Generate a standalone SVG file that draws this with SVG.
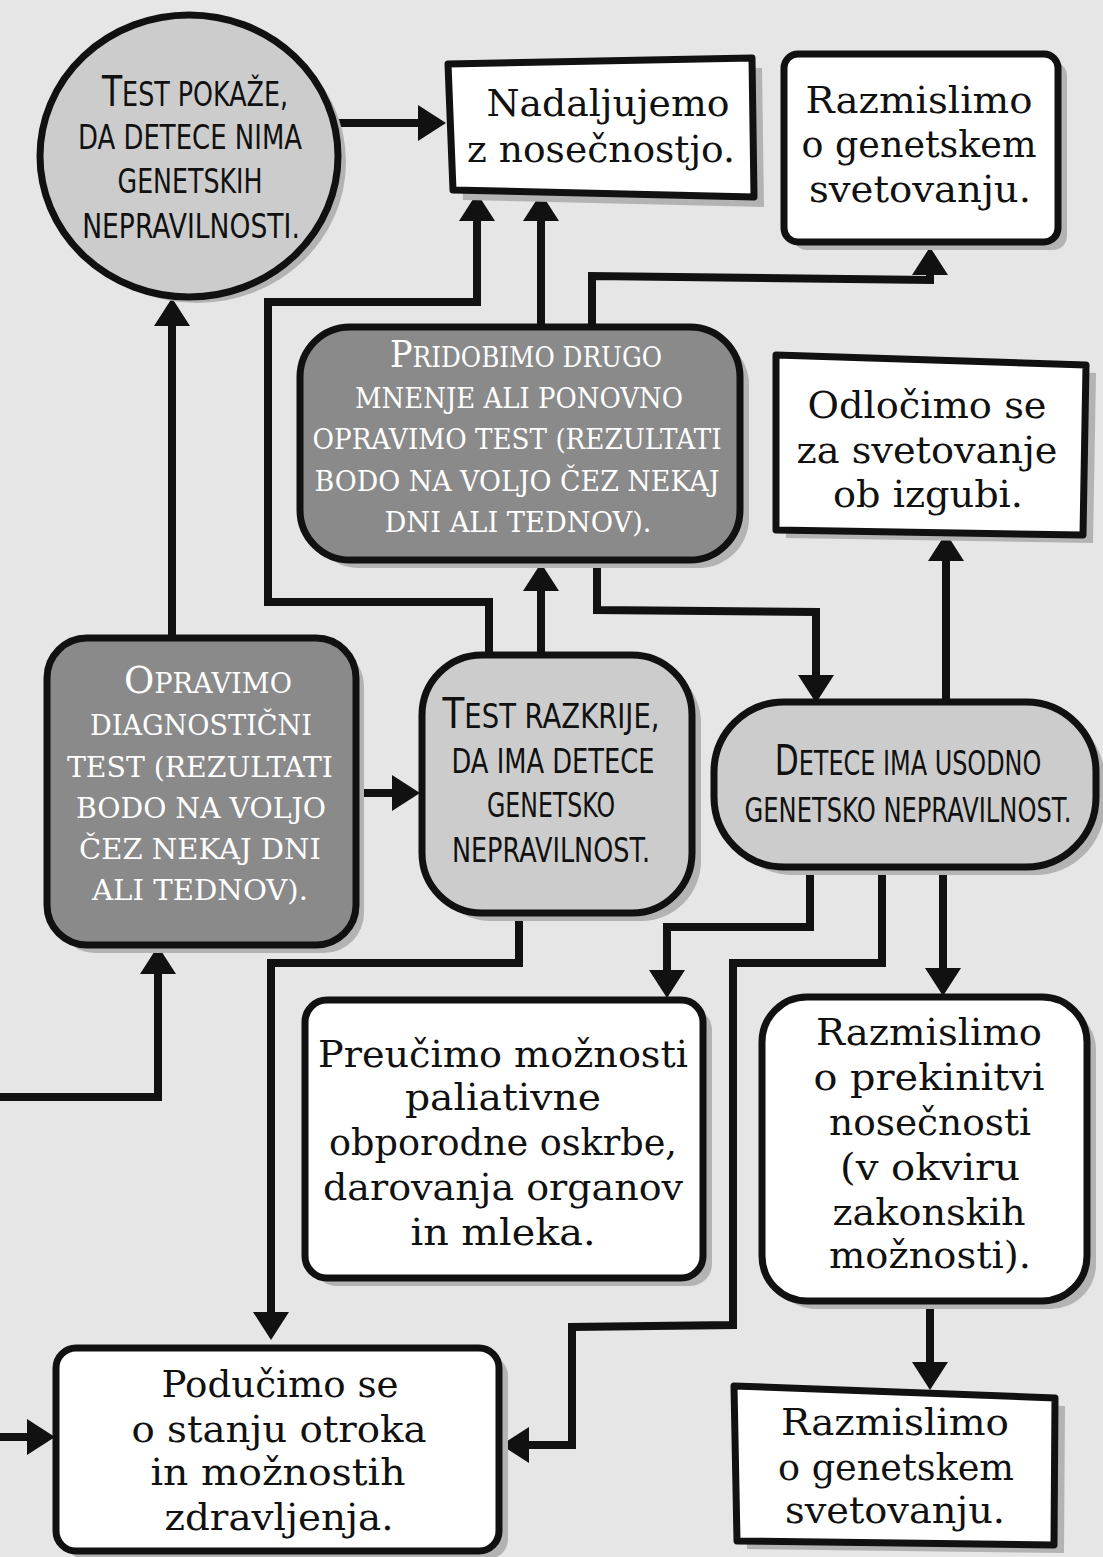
<svg xmlns="http://www.w3.org/2000/svg" width="1103" height="1557" viewBox="0 0 1103 1557">
<style>
.bg{fill:#e6e6e6}
.shape{stroke:#111;stroke-width:7;stroke-linejoin:round}
.shadow{fill:#b3b3b3;stroke:none}
.light{fill:#cccccc}
.dark{fill:#8a8a8a}
.white{fill:#ffffff}
.hand{font-family:"DejaVu Sans",sans-serif;font-size:33px;fill:#111;text-anchor:middle}
.hand .big{font-size:43px}
.sc{font-family:"DejaVu Serif",serif;font-size:28px;fill:#fff;text-anchor:middle}
.sc .big{font-size:38px}
.tw{font-family:"DejaVu Serif",serif;font-size:37px;fill:#111;text-anchor:middle}
.conn{fill:none;stroke:#111;stroke-width:8;stroke-linejoin:miter;marker-end:url(#arrow)}
</style>
<defs>
<marker id="arrow" viewBox="0 0 28 36" refX="16" refY="18" markerWidth="28" markerHeight="36" markerUnits="userSpaceOnUse" orient="auto">
<path d="M0,0 L28,18 L0,36 Z" fill="#111"/>
</marker>
</defs>
<rect class="bg" x="0" y="0" width="1103" height="1557"/>

<g id="connectors">
<path class="conn" d="M338,123 L434,123"/>
<path class="conn" d="M172,637 L172,310"/>
<path class="conn" d="M489,655 L489,602 L268,602 L268,302 L477,302 L477,205"/>
<path class="conn" d="M541,327 L541,205"/>
<path class="conn" d="M592,327 L592,276 L930,280 L930,259"/>
<path class="conn" d="M541,655 L541,575"/>
<path class="conn" d="M597,558 L597,610 L816,612 L816,691"/>
<path class="conn" d="M946,702 L946,545"/>
<path class="conn" d="M355,793 L408,793"/>
<path class="conn" d="M-5,1097 L158,1097 L158,958"/>
<path class="conn" d="M519,912 L519,963 L271,963 L271,1328"/>
<path class="conn" d="M810,866 L810,927 L667,927 L667,986"/>
<path class="conn" d="M882,866 L882,963 L733,963 L733,1325 L572,1327 L572,1445 L513,1445"/>
<path class="conn" d="M943,866 L943,984"/>
<path class="conn" d="M930,1300 L930,1378"/>
<path class="conn" d="M-5,1437 L43,1437"/>
</g>

<g id="node-test-pokaze">
<ellipse class="shadow" cx="197" cy="162" rx="149" ry="141"/>
<ellipse class="shape light" cx="189" cy="156" rx="149" ry="141"/>
<text class="hand" transform="translate(195,0) scale(0.7,1)" x="0" y="106" textLength="266" lengthAdjust="spacingAndGlyphs"><tspan class="big">T</tspan>EST POKAŽE,</text>
<text class="hand" transform="translate(190,0) scale(0.7,1)" x="0" y="149" textLength="320" lengthAdjust="spacingAndGlyphs">DA DETECE NIMA</text>
<text class="hand" transform="translate(190,0) scale(0.7,1)" x="0" y="193" textLength="207" lengthAdjust="spacingAndGlyphs">GENETSKIH</text>
<text class="hand" transform="translate(191,0) scale(0.7,1)" x="0" y="238" textLength="311" lengthAdjust="spacingAndGlyphs">NEPRAVILNOSTI.</text>
</g>

<g id="node-nadaljujemo">
<path class="shadow" d="M458,74 L762,68 L764,207 L463,200 Z"/>
<path class="shape white" d="M448,64 L752,58 L754,197 L453,190 Z"/>
<text class="tw" x="608" y="116" textLength="243" lengthAdjust="spacingAndGlyphs">Nadaljujemo</text>
<text class="tw" x="601" y="162" textLength="268" lengthAdjust="spacingAndGlyphs">z nosečnostjo.</text>
</g>

<g id="node-razmislimo-top">
<rect class="shadow" x="793" y="62" width="274" height="188" rx="14"/>
<rect class="shape white" x="784" y="54" width="274" height="188" rx="14"/>
<text class="tw" x="919" y="113" textLength="227" lengthAdjust="spacingAndGlyphs">Razmislimo</text>
<text class="tw" x="919" y="157" textLength="235" lengthAdjust="spacingAndGlyphs">o genetskem</text>
<text class="tw" x="920" y="202" textLength="222" lengthAdjust="spacingAndGlyphs">svetovanju.</text>
</g>

<g id="node-pridobimo">
<rect class="shadow" x="309" y="335" width="440" height="233" rx="50"/>
<rect class="shape dark" x="300" y="327" width="440" height="233" rx="50"/>
<text class="sc" x="526" y="367" textLength="272" lengthAdjust="spacingAndGlyphs"><tspan class="big">P</tspan>RIDOBIMO DRUGO</text>
<text class="sc" x="519" y="408" textLength="328" lengthAdjust="spacingAndGlyphs">MNENJE ALI PONOVNO</text>
<text class="sc" x="517" y="449" textLength="409" lengthAdjust="spacingAndGlyphs">OPRAVIMO TEST (REZULTATI</text>
<text class="sc" x="517" y="491" textLength="405" lengthAdjust="spacingAndGlyphs">BODO NA VOLJO ČEZ NEKAJ</text>
<text class="sc" x="518" y="532" textLength="267" lengthAdjust="spacingAndGlyphs">DNI ALI TEDNOV).</text>
</g>

<g id="node-odlocimo">
<path class="shadow" d="M786,363 L1096,373 L1093,543 L786,538 Z"/>
<path class="shape white" d="M776,355 L1086,365 L1083,535 L776,530 Z"/>
<text class="tw" x="927" y="418" textLength="239" lengthAdjust="spacingAndGlyphs">Odločimo se</text>
<text class="tw" x="927" y="463" textLength="261" lengthAdjust="spacingAndGlyphs">za svetovanje</text>
<text class="tw" x="928" y="507" textLength="190" lengthAdjust="spacingAndGlyphs">ob izgubi.</text>
</g>

<g id="node-opravimo">
<rect class="shadow" x="55" y="646" width="309" height="307" rx="40"/>
<rect class="shape dark" x="47" y="638" width="309" height="307" rx="40"/>
<text class="sc" x="208" y="693" textLength="168" lengthAdjust="spacingAndGlyphs"><tspan class="big">O</tspan>PRAVIMO</text>
<text class="sc" x="201" y="735" textLength="222" lengthAdjust="spacingAndGlyphs">DIAGNOSTIČNI</text>
<text class="sc" x="200" y="777" textLength="266" lengthAdjust="spacingAndGlyphs">TEST (REZULTATI</text>
<text class="sc" x="201" y="818" textLength="250" lengthAdjust="spacingAndGlyphs">BODO NA VOLJO</text>
<text class="sc" x="200" y="859" textLength="242" lengthAdjust="spacingAndGlyphs">ČEZ NEKAJ DNI</text>
<text class="sc" x="200" y="900" textLength="216" lengthAdjust="spacingAndGlyphs">ALI TEDNOV).</text>
</g>

<g id="node-test-razkrije">
<rect class="shadow" x="431" y="663" width="270" height="258" rx="60"/>
<rect class="shape light" x="422" y="655" width="270" height="258" rx="60"/>
<text class="hand" transform="translate(551,0) scale(0.7,1)" x="0" y="728" textLength="310" lengthAdjust="spacingAndGlyphs"><tspan class="big">T</tspan>EST RAZKRIJE,</text>
<text class="hand" transform="translate(553,0) scale(0.7,1)" x="0" y="773" textLength="290" lengthAdjust="spacingAndGlyphs">DA IMA DETECE</text>
<text class="hand" transform="translate(551,0) scale(0.7,1)" x="0" y="817" textLength="183" lengthAdjust="spacingAndGlyphs">GENETSKO</text>
<text class="hand" transform="translate(551,0) scale(0.7,1)" x="0" y="862" textLength="283" lengthAdjust="spacingAndGlyphs">NEPRAVILNOST.</text>
</g>

<g id="node-detece">
<rect class="shadow" x="723" y="710" width="382" height="165" rx="70"/>
<rect class="shape light" x="714" y="702" width="382" height="165" rx="70"/>
<text class="hand" transform="translate(908,0) scale(0.7,1)" x="0" y="775" textLength="381" lengthAdjust="spacingAndGlyphs"><tspan class="big">D</tspan>ETECE IMA USODNO</text>
<text class="hand" transform="translate(908,0) scale(0.7,1)" x="0" y="822" textLength="467" lengthAdjust="spacingAndGlyphs">GENETSKO NEPRAVILNOST.</text>
</g>

<g id="node-preucimo">
<rect class="shadow" x="314" y="1008" width="398" height="278" rx="22"/>
<rect class="shape white" x="305" y="1000" width="398" height="278" rx="22"/>
<text class="tw" x="503" y="1067" textLength="370" lengthAdjust="spacingAndGlyphs">Preučimo možnosti</text>
<text class="tw" x="503" y="1110" textLength="196" lengthAdjust="spacingAndGlyphs">paliativne</text>
<text class="tw" x="503" y="1155" textLength="348" lengthAdjust="spacingAndGlyphs">obporodne oskrbe,</text>
<text class="tw" x="503" y="1200" textLength="360" lengthAdjust="spacingAndGlyphs">darovanja organov</text>
<text class="tw" x="503" y="1245" textLength="185" lengthAdjust="spacingAndGlyphs">in mleka.</text>
</g>

<g id="node-prekinitvi">
<rect class="shadow" x="771" y="1005" width="325" height="304" rx="45"/>
<rect class="shape white" x="762" y="997" width="325" height="304" rx="45"/>
<text class="tw" x="929" y="1045" textLength="226" lengthAdjust="spacingAndGlyphs">Razmislimo</text>
<text class="tw" x="929" y="1090" textLength="231" lengthAdjust="spacingAndGlyphs">o prekinitvi</text>
<text class="tw" x="930" y="1135" textLength="202" lengthAdjust="spacingAndGlyphs">nosečnosti</text>
<text class="tw" x="930" y="1180" textLength="180" lengthAdjust="spacingAndGlyphs">(v okviru</text>
<text class="tw" x="929" y="1225" textLength="193" lengthAdjust="spacingAndGlyphs">zakonskih</text>
<text class="tw" x="930" y="1268" textLength="202" lengthAdjust="spacingAndGlyphs">možnosti).</text>
</g>

<g id="node-producimo">
<rect class="shadow" x="65" y="1356" width="443" height="203" rx="20"/>
<rect class="shape white" x="56" y="1348" width="443" height="203" rx="20"/>
<text class="tw" x="280" y="1397" textLength="237" lengthAdjust="spacingAndGlyphs">Podučimo se</text>
<text class="tw" x="279" y="1442" textLength="295" lengthAdjust="spacingAndGlyphs">o stanju otroka</text>
<text class="tw" x="278" y="1485" textLength="255" lengthAdjust="spacingAndGlyphs">in možnostih</text>
<text class="tw" x="279" y="1530" textLength="229" lengthAdjust="spacingAndGlyphs">zdravljenja.</text>
</g>

<g id="node-razmislimo-bottom">
<path class="shadow" d="M744,1394 L1065,1406 L1064,1553 L747,1549 Z"/>
<path class="shape white" d="M734,1386 L1055,1398 L1054,1545 L737,1541 Z"/>
<text class="tw" x="895" y="1435" textLength="228" lengthAdjust="spacingAndGlyphs">Razmislimo</text>
<text class="tw" x="896" y="1480" textLength="236" lengthAdjust="spacingAndGlyphs">o genetskem</text>
<text class="tw" x="895" y="1523" textLength="220" lengthAdjust="spacingAndGlyphs">svetovanju.</text>
</g>
</svg>
